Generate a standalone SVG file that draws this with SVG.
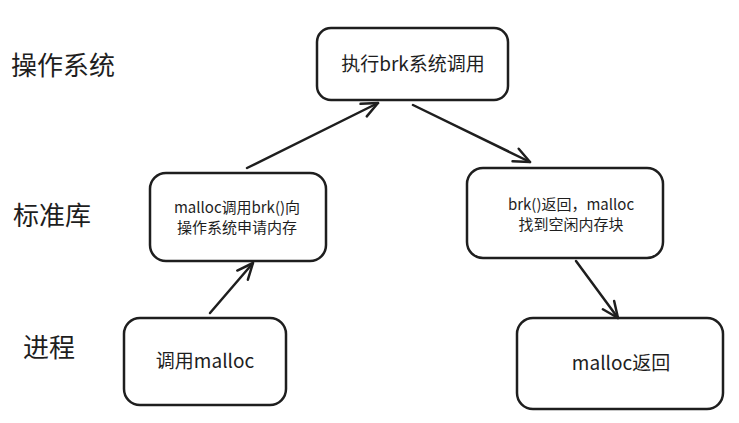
<svg xmlns="http://www.w3.org/2000/svg" width="739" height="423" viewBox="0 0 739 423">
<defs>
<style>
.box{fill:#ffffff;stroke:#1e1e1e;stroke-width:2.5}
.t{font-family:"Noto Sans CJK SC","Noto Sans",sans-serif;fill:#1e1e1e;text-anchor:middle}
.lbl{font-family:"Noto Sans CJK SC","Noto Sans",sans-serif;fill:#1e1e1e;font-size:26px}
.c{stroke:#1e1e1e;stroke-width:2.5;fill:none;stroke-linecap:round;marker-end:url(#ah)}
</style>
<marker id="ah" markerUnits="userSpaceOnUse" markerWidth="30" markerHeight="30" viewBox="-20 -15 30 30" refX="0" refY="0" orient="auto">
<path d="M-16,-7 L0,0 L-16,7" fill="none" stroke="#1e1e1e" stroke-width="2.5" stroke-linecap="round" stroke-linejoin="round"/>
</marker>
</defs>
<rect width="739" height="423" fill="#ffffff"/>
<g id="labels">
<text class="lbl" x="11" y="75">操作系统</text>
<text class="lbl" x="13" y="225">标准库</text>
<text class="lbl" x="23" y="357">进程</text>
</g>
<g id="node-os">
<rect class="box" x="317" y="28" width="191" height="72" rx="14"/>
<text class="t" x="413" y="71" font-size="19">执行brk系统调用</text>
</g>
<g id="node-lib-left">
<rect class="box" x="150" y="173" width="176" height="88" rx="16"/>
<text class="t" x="237" y="213" font-size="15">malloc调用brk()向</text>
<text class="t" x="237" y="233" font-size="15">操作系统申请内存</text>
</g>
<g id="node-lib-right">
<rect class="box" x="467" y="168" width="196" height="90" rx="16"/>
<text class="t" x="571" y="210" font-size="15">brk()返回，malloc</text>
<text class="t" x="571" y="230" font-size="15">找到空闲内存块</text>
</g>
<g id="node-proc-left">
<rect class="box" x="124" y="318" width="162" height="87" rx="16"/>
<text class="t" x="205" y="368" font-size="19">调用malloc</text>
</g>
<g id="node-proc-right">
<rect class="box" x="517" y="318" width="206" height="91" rx="16"/>
<text class="t" x="621" y="370" font-size="19">malloc返回</text>
</g>
<g id="connectors">
<line class="c" x1="210" y1="313" x2="253" y2="263"/>
<line class="c" x1="247" y1="168" x2="378" y2="103"/>
<line class="c" x1="413" y1="105" x2="530" y2="162"/>
<line class="c" x1="576" y1="261" x2="618" y2="318"/>
</g>
</svg>
